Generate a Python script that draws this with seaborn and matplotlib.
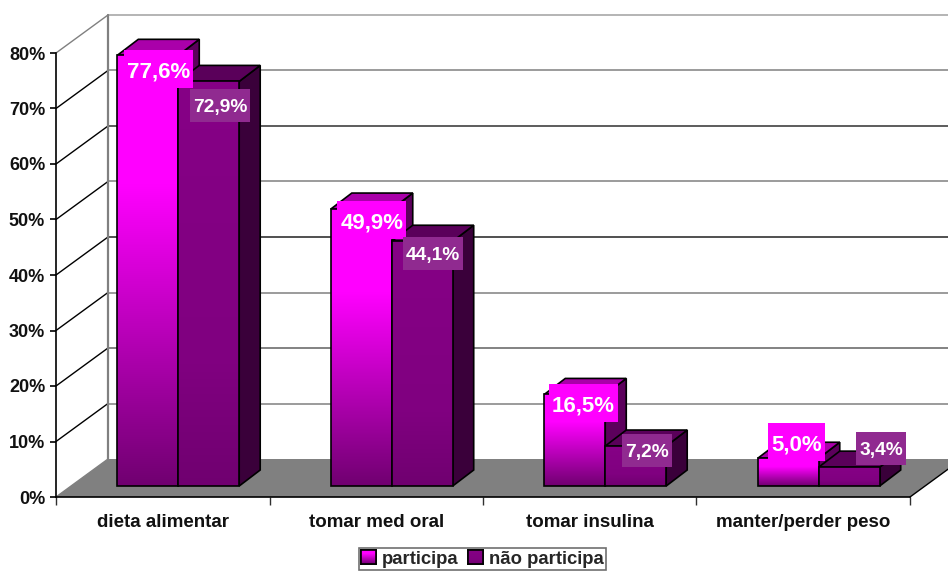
import numpy as np
import pandas as pd
import matplotlib
matplotlib.use("Agg")
import matplotlib.pyplot as plt
import seaborn as sns
from matplotlib.colors import LinearSegmentedColormap
from matplotlib.patches import Patch, Polygon, Rectangle
from matplotlib.transforms import Affine2D, IdentityTransform

# Data
categories = ["dieta alimentar", "tomar med oral", "tomar insulina", "manter/perder peso"]
series_names = ["participa", "não participa"]
participa = [77.6, 49.9, 16.5, 5.0]
nao_participa = [72.9, 44.1, 7.2, 3.4]
y_ticks = [0, 10, 20, 30, 40, 50, 60, 70, 80]

# label placement around each bar top, in pixels
offsets_1 = [(10.5, -14), (10.5, -11), (8.5, -9), (8.5, 16)]
offsets_2 = [(11.5, -24), (10.5, -12.5), (11, -4), (32, 19)]

sns.set_theme(style="white")
plt.rcParams["font.family"] = ["Liberation Sans", "DejaVu Sans"]
plt.rcParams["font.weight"] = "bold"

W, H = 948, 571
fig = plt.figure(figsize=(W / 100, H / 100), dpi=100)
ax = fig.add_axes([56 / W, (H - 497) / H, 854 / W, 444 / H])

df = pd.DataFrame({
    "categoria": categories * 2,
    "valor": participa + nao_participa,
    "serie": [series_names[0]] * 4 + [series_names[1]] * 4,
})
sns.barplot(data=df, x="categoria", y="valor", hue="serie", order=categories,
            hue_order=series_names, width=0.571, gap=0, legend=False, ax=ax,
            palette=["#ff00ff", "#800080"], saturation=1, zorder=5)

ax.set_xlim(-0.5, 3.5)
ax.set_ylim(0, 80)
ax.set_autoscale_on(False)
ax.set_xlabel("")
ax.set_ylabel("")

# pixels to data units
px_x = 4 / 854
px_y = 80 / 444

# walls and floor
wall_tf = ax.transData + Affine2D().translate(52, 38)
wall_dx, wall_dy = 52 * px_x, 38 * px_y
ax.add_patch(Polygon([(-0.5, 0), (3.5, 0), (3.5 + wall_dx, wall_dy), (-0.5 + wall_dx, wall_dy)],
                     facecolor="#808080", edgecolor="none", clip_on=False, zorder=1))
grid_colors = ["#a0a0a0", "#808080", "#303030", "#808080", "#202020", "#808080", "#606060", "#808080"]
for v, c in zip(y_ticks[1:][::-1], grid_colors):
    ax.plot([-0.5, 3.5], [v, v], transform=wall_tf, color=c, lw=1.1, clip_on=False, zorder=2)
    ax.plot([-0.5, -0.5 + wall_dx], [v, v + wall_dy], color="#808080" if v == 80 else "black",
            lw=1, clip_on=False, zorder=2)
ax.plot([-0.5, -0.5], [0, 80], transform=wall_tf, color="#808080", lw=1.6, clip_on=False, zorder=2)
ax.plot([-0.5, -0.5 + wall_dx], [0, wall_dy], color="#808080", lw=1, clip_on=False, zorder=2)
ax.plot([3.5, 3.5 + wall_dx], [0, wall_dy], color="black", lw=1, clip_on=False, zorder=2)

# bars: shifted into the floor, front face with gradient, top and side faces
bar_tf = ax.transData + Affine2D().translate(15.5, 11)
depth_x, depth_y = 21 * px_x, 16 * px_y
cmap_1 = LinearSegmentedColormap.from_list("p1", [(0, "#ff00ff"), (0.3, "#ff00ff"), (1, "#700070")])
cmap_2 = LinearSegmentedColormap.from_list("p2", [(0, "#860086"), (0.7, "#800080"), (1, "#700070")])
grad = np.linspace(0, 1, 256).reshape(-1, 1)
styles = [(cmap_1, "#aa00aa", "#5c005c"), (cmap_2, "#5a005a", "#3a003a")]

tops = [[], []]
z = 5
for k in range(4):
    for s, cont in enumerate(ax.containers):
        bar = cont[k]
        x0, w, h = bar.get_x(), bar.get_width(), bar.get_height()
        x1 = x0 + w
        cmap, top_c, side_c = styles[s]
        ax.add_patch(Polygon([(x1, 0), (x1 + depth_x, depth_y), (x1 + depth_x, h + depth_y), (x1, h)],
                             transform=bar_tf, facecolor=side_c, edgecolor="black", lw=1.2,
                             clip_on=False, zorder=z))
        ax.add_patch(Polygon([(x0, h), (x1, h), (x1 + depth_x, h + depth_y), (x0 + depth_x, h + depth_y)],
                             transform=bar_tf, facecolor=top_c, edgecolor="black", lw=1.2,
                             clip_on=False, zorder=z + 0.1))
        ax.imshow(grad, cmap=cmap, extent=(x0, x1, 0, h), origin="upper", aspect="auto",
                  transform=bar_tf, clip_on=False, zorder=z + 0.2)
        bar.set_transform(bar_tf)
        bar.set_facecolor("none")
        bar.set_edgecolor("black")
        bar.set_linewidth(1.2)
        bar.set_clip_on(False)
        bar.set_zorder(z + 0.3)
        tops[s].append(bar_tf.transform((x0 + w / 2, h)))
        z += 1

# axes, ticks
for side in ["top", "right"]:
    ax.spines[side].set_visible(False)
for side in ["left", "bottom"]:
    ax.spines[side].set_color("black")
    ax.spines[side].set_linewidth(1.2)
    ax.spines[side].set_zorder(3)
ax.set_yticks(y_ticks)
ax.set_yticklabels([f"{v}%" for v in y_ticks], fontsize=13, fontweight="bold", color="#111111")
ax.tick_params(axis="y", left=True, length=4.3, width=1.2, color="black", pad=3.5)
ax.set_xticks(range(4))
ax.set_xticklabels(categories, fontsize=13.5, fontweight="bold", color="#111111")
ax.set_xticks([-0.5, 0.5, 1.5, 2.5, 3.5], minor=True)
ax.tick_params(axis="x", which="major", bottom=False, pad=6)
ax.tick_params(axis="x", which="minor", bottom=True, length=6, width=1, color="#303030")

# data labels with their coloured boxes
renderer = fig.canvas.get_renderer()
label_sets = [(participa, offsets_1, "#ff00ff", 16, 38, 6),
              (nao_participa, offsets_2, "#902a90", 13.8, 33, 6)]
for s, (vals, offs, box_c, size, box_h, margin) in enumerate(label_sets):
    for k, v in enumerate(vals):
        cx = tops[s][k][0] + offs[k][0]
        cy = tops[s][k][1] + offs[k][1]
        txt = ax.text(cx, cy, f"{v:.1f}%".replace(".", ","), transform=IdentityTransform(),
                      ha="center", va="center_baseline", color="white", fontsize=size,
                      fontweight="bold", clip_on=False, zorder=60)
        tw = txt.get_window_extent(renderer).width + margin
        ax.add_patch(Rectangle((cx - tw / 2, cy - box_h / 2), tw, box_h, transform=IdentityTransform(),
                               facecolor=box_c, edgecolor="none", clip_on=False, zorder=59))

# legend
handles = [Patch(facecolor="#ff00ff", edgecolor="black", lw=1.2),
           Patch(facecolor="#800080", edgecolor="black", lw=1.2)]
leg = fig.legend(handles, series_names, loc="center", bbox_to_anchor=(482.5 / W, (H - 559) / H),
                 ncol=2, frameon=True, fancybox=False, edgecolor="#707070", framealpha=1,
                 prop={"family": "Liberation Sans", "weight": "bold", "size": 13.3},
                 handlelength=0.8, handleheight=0.8, handletextpad=0.35, columnspacing=0.5,
                 borderpad=0.12, borderaxespad=0)
leg.get_frame().set_linewidth(1.2)
fig.canvas.draw()
for patch, cmap in zip(leg.get_patches(), [cmap_1, cmap_2]):
    bb = patch.get_window_extent(renderer)
    lax = fig.add_axes([bb.x0 / W, bb.y0 / H, bb.width / W, bb.height / H], zorder=20)
    lax.imshow(grad, cmap=cmap, aspect="auto")
    lax.set_xticks([])
    lax.set_yticks([])
    for sp in lax.spines.values():
        sp.set_color("black")
        sp.set_linewidth(1.2)

fig.savefig("out.png", dpi=100)
